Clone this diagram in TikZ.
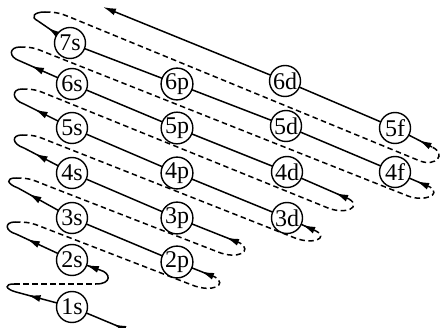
\documentclass[tikz,border=0pt]{standalone}
\usepackage{fontspec}
\setmainfont{Liberation Serif}
\usetikzlibrary{arrows.meta,decorations.markings,backgrounds}
\newcommand{\orbfont}{\fontsize{24pt}{24pt}\selectfont}
\begin{document}
\begin{tikzpicture}[x=1pt,y=-1pt,
  orb/.style={circle,draw,line width=1.4pt,fill=white,inner sep=0pt,minimum size=31pt,font=\orbfont},
  seqline/.style={line width=1.5pt,postaction={decorate},decoration={markings,
     mark=at position 15pt with {\arrow{Latex[length=13pt,width=7pt]}},
     mark=at position -12pt with {\arrow{Latex[length=13pt,width=7pt]}}}},
  lastline/.style={line width=1.5pt,-{Latex[length=13pt,width=7pt]},postaction={decorate},decoration={markings,
     mark=at position 15pt with {\arrow{Latex[length=13pt,width=7pt]}}}},
  curl/.style={line width=1.5pt},
  dashline/.style={line width=1.5pt,dash pattern=on 5.5pt off 3.5pt}]
\useasboundingbox (0,0) rectangle (441,328);
\node[orb] (n1s) at (72,307) {1s};
\node[orb] (n2s) at (72,260) {2s};
\node[orb] (n2p) at (177,262) {2p};
\node[orb] (n3s) at (72,218) {3s};
\node[orb] (n3p) at (177,218) {3p};
\node[orb] (n3d) at (287,218) {3d};
\node[orb] (n4s) at (72,173) {4s};
\node[orb] (n4p) at (177,173) {4p};
\node[orb] (n4d) at (287,172) {4d};
\node[orb] (n4f) at (395,172) {4f};
\node[orb] (n5s) at (72,128) {5s};
\node[orb] (n5p) at (177,128) {5p};
\node[orb] (n5d) at (286,126) {5d};
\node[orb] (n5f) at (395,128) {5f};
\node[orb] (n6s) at (72,84) {6s};
\node[orb] (n6p) at (177,84) {6p};
\node[orb] (n6d) at (285,81) {6d};
\node[orb] (n7s) at (70,43) {7s};
% line ends
\coordinate (S1) at (127,330); \coordinate (E1) at (16,292); \coordinate (T1) at (14,284);
\coordinate (S2) at (100,270); \coordinate (E2) at (16,234); \coordinate (T2) at (15,222);
\coordinate (S3) at (215,277); \coordinate (E3) at (18,188); \coordinate (T3) at (16,178);
\coordinate (S4) at (240,243); \coordinate (E4) at (24,148); \coordinate (T4) at (22,135);
\coordinate (S5) at (316,231); \coordinate (E5) at (24,104); \coordinate (T5) at (22,89);
\coordinate (S6) at (349,199); \coordinate (E6) at (20,61);  \coordinate (T6) at (20,47);
\coordinate (S7) at (430,187); \coordinate (E7) at (38,21);  \coordinate (T7) at (45,12);
\coordinate (S8) at (432,147); \coordinate (E8) at (103,7);
\begin{pgfonlayer}{background}
% solid diagonals
\draw[seqline] (S1) -- (n1s.center) -- (E1);
\draw[seqline] (S2) -- (n2s.center) -- (E2);
\draw[seqline] (S3) -- (n2p.center) -- (n3s.center) -- (E3);
\draw[seqline] (S4) -- (n3p.center) -- (n4s.center) -- (E4);
\draw[seqline] (S5) -- (n3d.center) -- (n4p.center) -- (n5s.center) -- (E5);
\draw[seqline] (S6) -- (n4d.center) -- (n5p.center) -- (n6s.center) -- (E6);
\draw[seqline] (S7) -- (n4f.center) -- (n5d.center) -- (n6p.center) -- (n7s.center) -- (E7);
\draw[lastline] (S8) -- (n5f.center) -- (n6d.center) -- (E8);
% curls
\draw[curl] (E1) .. controls (5,289) and (4,284) .. (T1);
\draw[curl] (E2) .. controls (5,231) and (4,222) .. (T2);
\draw[curl] (E3) .. controls (7,184) and (5,178) .. (T3);
\draw[curl] (E4) .. controls (12,144) and (11,135) .. (T4);
\draw[curl] (E5) .. controls (12,100) and (11,89) .. (T5);
\draw[curl] (E6) .. controls (8,57) and (9,47) .. (T6);
\draw[curl] (E7) .. controls (30,17) and (34,12) .. (T7);
% dashed returns
\coordinate (D1) at (96,284);
\draw[dashline] (T1) -- (D1);
\draw[curl] (D1) .. controls (112,284) and (111,273) .. (S2);
\draw[dashline] (T2) .. controls (29,222) and (32,223) .. (42,227) -- (192,285) .. controls (212,293) and (228,285) .. (S3);
\draw[dashline] (T3) .. controls (30,178) and (33,180) .. (43,184) -- (218,252) .. controls (238,260) and (253,251) .. (S4);
\draw[dashline] (T4) .. controls (36,135) and (39,137) .. (49,141) -- (295,238) .. controls (313,245) and (329,238) .. (S5);
\draw[dashline] (T5) .. controls (36,89) and (39,91) .. (49,95) -- (328,208) .. controls (346,215) and (362,207) .. (S6);
\draw[dashline] (T6) .. controls (34,47) and (37,49) .. (47,53) -- (408,196) .. controls (424,202) and (442,195) .. (S7);
\draw[dashline] (T7) .. controls (58,12) and (62,14) .. (72,18) -- (420,161) .. controls (436,167) and (447,154) .. (S8);
\end{pgfonlayer}
\end{tikzpicture}
\end{document}
